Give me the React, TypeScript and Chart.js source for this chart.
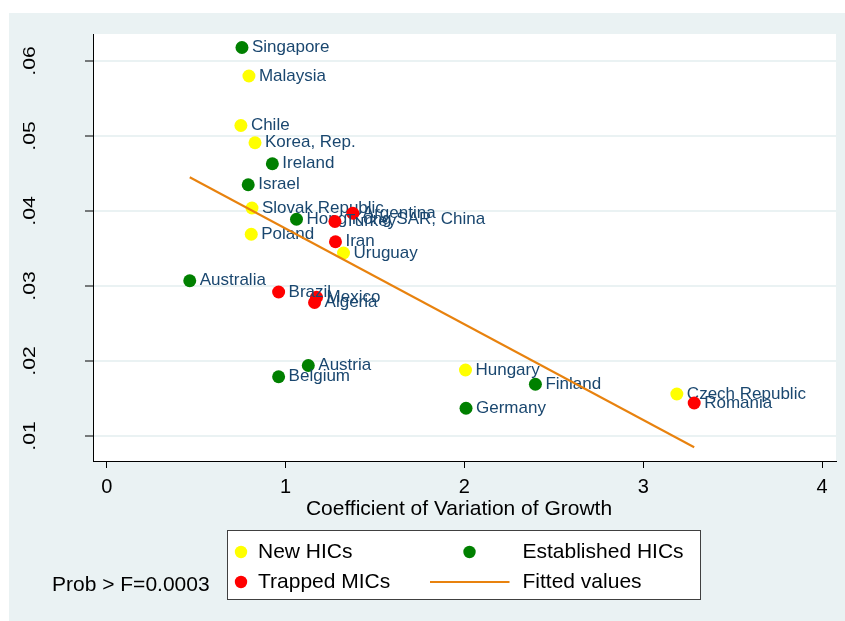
import React, { useEffect, useRef } from "react";
import { Chart, registerables } from "chart.js";

Chart.register(...registerables);

const W = 845;
const H = 621;
const FONT = "'Liberation Sans', Arial, Helvetica, sans-serif";

// ---- data ----
const seriesLabels = ["New HICs", "Established HICs", "Trapped MICs", "Fitted values"];

const newNames = ["Malaysia", "Chile", "Korea, Rep.", "Slovak Republic", "Poland", "Uruguay", "Hungary", "Czech Republic"];
const newX = [0.795, 0.75, 0.829, 0.812, 0.808, 1.324, 2.006, 3.188];
const newY = [0.058, 0.0514, 0.0491, 0.0404, 0.0369, 0.0344, 0.0188, 0.0156];

const estNames = ["Singapore", "Ireland", "Israel", "Hong Kong SAR, China", "Australia", "Austria", "Belgium", "Finland", "Germany"];
const estX = [0.756, 0.926, 0.791, 1.061, 0.464, 1.127, 0.961, 2.397, 2.009];
const estY = [0.0618, 0.0463, 0.0435, 0.0389, 0.0307, 0.0194, 0.0179, 0.0169, 0.0137];

const trapNames = ["Argentina", "Turkey", "Iran", "Brazil", "Mexico", "Algeria", "Romania"];
const trapX = [1.376, 1.276, 1.279, 0.961, 1.173, 1.162, 3.285];
const trapY = [0.0397, 0.0386, 0.0359, 0.0292, 0.0285, 0.0278, 0.0144];

const fitX = [0.464, 3.285];
const fitY = [0.0445, 0.0085];

const xTicks = [0, 1, 2, 3, 4];
const xTickLabels = ["0", "1", "2", "3", "4"];
const yTicks = [0.01, 0.02, 0.03, 0.04, 0.05, 0.06];
const yTickLabels = [".01", ".02", ".03", ".04", ".05", ".06"];
const xTitle = "Coefficient of Variation of Growth";
const noteText = "Prob > F=0.0003";

const colNew = "#FFFF00";
const colEst = "#008000";
const colTrap = "#FF0000";
const colFit = "#E8820E";
const colLabel = "#1A476F";
const colPanel = "#EAF2F3";

export default function App() {
  const ref = useRef<HTMLCanvasElement | null>(null);

  useEffect(() => {
    const canvas = ref.current;
    if (!canvas) return;
    const pts = (xs: number[], ys: number[]) => xs.map((x, i) => ({ x, y: ys[i] }));
    const namesByDataset: (string[] | null)[] = [newNames, estNames, trapNames, null];

    const bgPlugin = {
      id: "bgPanel",
      beforeDraw(chart: any) {
        const { ctx, chartArea } = chart;
        ctx.save();
        ctx.fillStyle = "#FFFFFF";
        ctx.fillRect(0, 0, W, H);
        ctx.fillStyle = colPanel;
        ctx.fillRect(9, 13, W - 9, H - 13);
        ctx.fillStyle = "#FFFFFF";
        ctx.fillRect(chartArea.left, chartArea.top, chartArea.right - chartArea.left, chartArea.bottom - chartArea.top);
        ctx.restore();
      },
    };

    const labelPlugin = {
      id: "pointLabels",
      afterDatasetDraw(chart: any, args: any) {
        const names = namesByDataset[args.index];
        if (!names) return;
        const { ctx } = chart;
        ctx.save();
        ctx.font = `17px ${FONT}`;
        ctx.fillStyle = colLabel;
        ctx.textAlign = "left";
        ctx.textBaseline = "middle";
        args.meta.data.forEach((el: any, i: number) => {
          ctx.fillText(names[i], el.x + 10, el.y);
        });
        ctx.restore();
      },
    };

    const extrasPlugin = {
      id: "extras",
      afterDraw(chart: any) {
        const { ctx } = chart;
        const ys = chart.scales.y;
        const xs = chart.scales.x;
        // y tick labels (rotated)
        ctx.save();
        ctx.fillStyle = "#000";
        ctx.font = `16px ${FONT}`;
        ctx.textAlign = "center";
        ctx.textBaseline = "middle";
        yTicks.forEach((v, i) => {
          const py = ys.getPixelForValue(v);
          ctx.save();
          ctx.translate(ys.right - 62.5, py);
          ctx.rotate(-Math.PI / 2);
          ctx.scale(1.32, 1);
          ctx.fillText(yTickLabels[i], 0, 0);
          ctx.restore();
        });
        ctx.restore();

        // x axis title
        ctx.save();
        ctx.fillStyle = "#000";
        ctx.font = `21px ${FONT}`;
        ctx.textAlign = "center";
        ctx.textBaseline = "middle";
        ctx.fillText(xTitle, (xs.left + xs.right) / 2 - 5.5, xs.top + 48);
        ctx.restore();

        // legend box
        const lx = 227.5, ly = 530.5, lw = 473, lh = 69;
        ctx.save();
        ctx.fillStyle = "#FFFFFF";
        ctx.fillRect(lx, ly, lw, lh);
        ctx.strokeStyle = "#404040";
        ctx.lineWidth = 1;
        ctx.strokeRect(lx, ly, lw, lh);
        const r1 = 552, r2 = 582;
        const dot = (x: number, y: number, c: string) => {
          ctx.beginPath();
          ctx.arc(x, y, 6.2, 0, Math.PI * 2);
          ctx.fillStyle = c;
          ctx.fill();
        };
        dot(241, r1, colNew);
        dot(241, r2, colTrap);
        dot(469.5, r1, colEst);
        ctx.beginPath();
        ctx.moveTo(430, r2);
        ctx.lineTo(509.5, r2);
        ctx.strokeStyle = colFit;
        ctx.lineWidth = 2;
        ctx.stroke();
        ctx.fillStyle = "#000";
        ctx.font = `21px ${FONT}`;
        ctx.textAlign = "left";
        ctx.textBaseline = "middle";
        ctx.fillText(seriesLabels[0], 258, r1);
        ctx.fillText(seriesLabels[2], 258, r2);
        ctx.fillText(seriesLabels[1], 522.5, r1);
        ctx.fillText(seriesLabels[3], 522.5, r2);
        ctx.fillText(noteText, 52, 585);
        ctx.restore();
      },
    };

    const chart = new Chart(canvas, {
      type: "scatter",
      data: {
        datasets: [
          { label: seriesLabels[0], data: pts(newX, newY), backgroundColor: colNew, borderWidth: 0, pointRadius: 6.5, order: 3 },
          { label: seriesLabels[1], data: pts(estX, estY), backgroundColor: colEst, borderWidth: 0, pointRadius: 6.5, order: 2 },
          { label: seriesLabels[2], data: pts(trapX, trapY), backgroundColor: colTrap, borderWidth: 0, pointRadius: 6.5, order: 1 },
          {
            label: seriesLabels[3],
            type: "line",
            data: pts(fitX, fitY),
            borderColor: colFit,
            borderWidth: 2,
            pointRadius: 0,
            showLine: true,
            fill: false,
            order: 0,
          } as any,
        ],
      },
      options: {
        responsive: false,
        maintainAspectRatio: false,
        devicePixelRatio: 1,
        animation: false,
        layout: { padding: { top: 34, right: 9, left: 0, bottom: 0 } },
        plugins: { legend: { display: false }, tooltip: { enabled: false } },
        scales: {
          x: {
            type: "linear",
            min: -0.077,
            max: 4.078,
            afterBuildTicks: (s: any) => {
              s.ticks = xTicks.map((v) => ({ value: v }));
            },
            afterFit: (s: any) => {
              s.height = 160;
            },
            ticks: {
              autoSkip: false,
              maxRotation: 0,
              padding: 7,
              color: "#000",
              font: { family: FONT, size: 20 },
              callback: (v: any) => xTickLabels[xTicks.indexOf(Number(v))],
            },
            grid: { display: true, drawOnChartArea: false, drawTicks: true, tickLength: 7, tickColor: "#000", tickWidth: 1 },
            border: { display: true, color: "#000", width: 1 },
            title: { display: false },
          },
          y: {
            type: "linear",
            min: 0.006667,
            max: 0.0636,
            afterBuildTicks: (s: any) => {
              s.ticks = yTicks.map((v) => ({ value: v }));
            },
            afterFit: (s: any) => {
              s.width = 93;
            },
            ticks: { display: false },
            grid: { display: true, color: colPanel, lineWidth: 2, drawTicks: true, tickLength: 8, tickColor: "#000", tickWidth: 1 },
            border: { display: true, color: "#000", width: 1 },
          },
        },
      } as any,
      plugins: [bgPlugin, labelPlugin, extrasPlugin],
    });
    return () => chart.destroy();
  }, []);

  return (
    <div style={{ position: "fixed", left: 0, top: 0, width: W, height: H, background: "#fff" }}>
      <canvas ref={ref} width={W} height={H} style={{ display: "block", width: W, height: H }} />
    </div>
  );
}
